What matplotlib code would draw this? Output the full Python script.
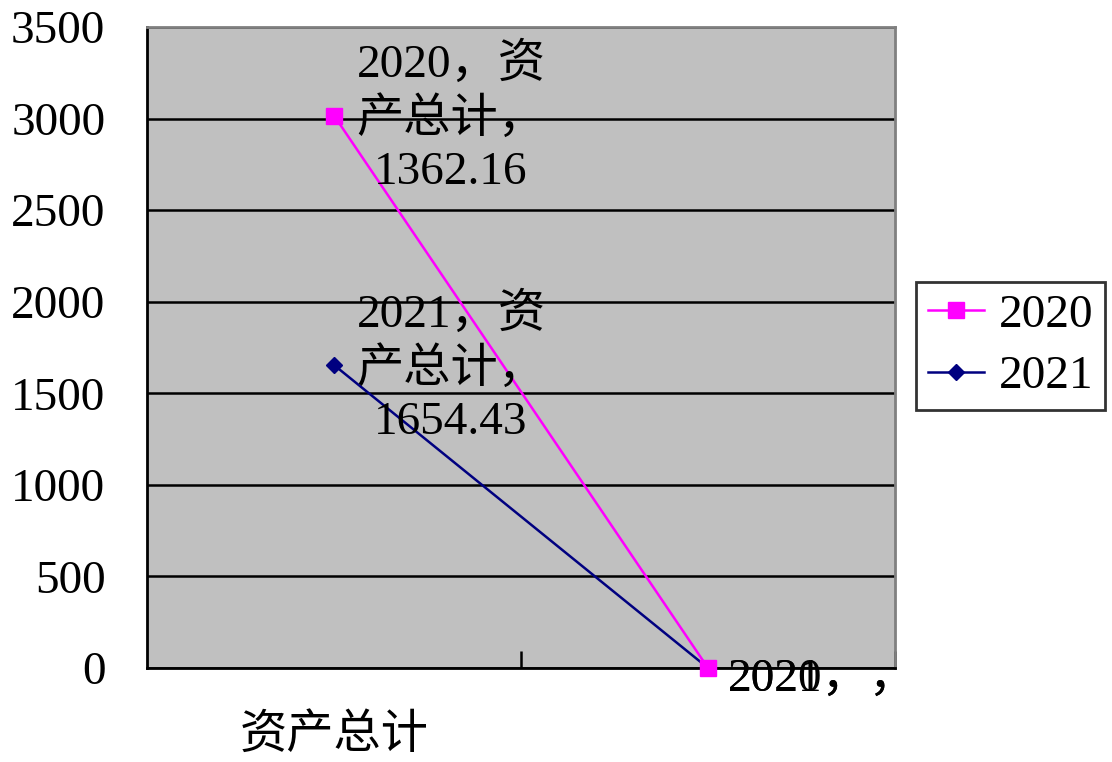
"""Stacked line chart: 资产总计 for 2020 / 2021."""

import numpy as np
import matplotlib
matplotlib.use("Agg")
import matplotlib.pyplot as plt
from matplotlib.ticker import FixedLocator

plt.rcParams["font.family"] = ["Liberation Serif", "Noto Sans CJK SC", "DejaVu Sans"]

categories = ["资产总计", ""]
val_2021 = [1654.43, 0.0]
val_2020 = [1362.16, 0.0]
yticks = [0, 500, 1000, 1500, 2000, 2500, 3000, 3500]

# stacked: 2021 at the bottom, 2020 on top of it
stack_2021 = np.array(val_2021)
stack_2020 = stack_2021 + np.array(val_2020)

FS = 34
fig = plt.figure(figsize=(11.12, 7.62), dpi=100)
ax = fig.add_axes([147 / 1112, 1 - 668 / 762, 748 / 1112, 641 / 762])
ax.set_facecolor("#c0c0c0")

x = np.arange(len(categories))
ax.plot(x, stack_2020, color="#ff00ff", lw=1.8, marker="s", ms=11,
        label="2020", zorder=5, clip_on=False)
ax.plot(x, stack_2021, color="#000080", lw=1.8, marker="D", ms=8,
        label="2021", zorder=4, clip_on=False)

ax.set_xlim(-0.5, 1.5)
ax.set_ylim(0, 3500)
ax.set_yticks(yticks)
ax.grid(True, axis="y", color="black", lw=1.8, zorder=1)
ax.set_axisbelow(True)
ax.tick_params(axis="y", length=0, pad=30, labelsize=FS)

ax.set_xticks(x)
ax.set_xticklabels(categories, fontsize=FS)
ax.tick_params(axis="x", which="major", length=0, pad=33)
ax.xaxis.set_minor_locator(FixedLocator([0.5, 1.5]))
ax.tick_params(axis="x", which="minor", direction="in", length=12, width=1.8)

for side in ["left", "bottom"]:
    ax.spines[side].set_color("black")
    ax.spines[side].set_linewidth(2)
for side in ["top", "right"]:
    ax.spines[side].set_color("#808080")
    ax.spines[side].set_linewidth(2)

# data labels
ax.annotate(f"2020，资\n产总计，\n{val_2020[0]:.2f}", (x[0], stack_2020[0]),
            xytext=(117, -3), textcoords="offset pixels", ha="center",
            va="center", fontsize=FS, linespacing=1.3, zorder=6)
ax.annotate(f"2021，资\n产总计，\n{val_2021[0]:.2f}", (x[0], stack_2021[0]),
            xytext=(117, -3), textcoords="offset pixels", ha="center",
            va="center", fontsize=FS, linespacing=1.3, zorder=6)
for lab in ["2021，，", "2020，，"]:
    ax.annotate(lab, (x[1], stack_2021[1]), xytext=(20, -12),
                textcoords="offset pixels", ha="left", va="center",
                fontsize=FS, annotation_clip=False, zorder=6)

leg = fig.legend(loc="center left", bbox_to_anchor=(916 / 1112, 1 - 346 / 762),
                 fontsize=FS, frameon=True, fancybox=False, edgecolor="black",
                 handlelength=1.2, handletextpad=0.3, labelspacing=0.4,
                 borderpad=0.25, borderaxespad=0)
leg.get_frame().set_linewidth(2)

fig.savefig("out.png", dpi=100)
